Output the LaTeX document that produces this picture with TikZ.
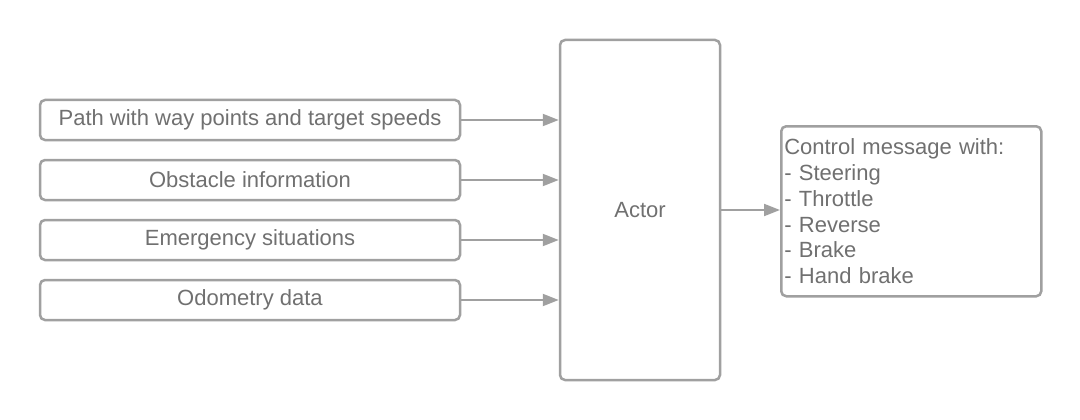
\documentclass[tikz,border=0pt]{standalone}
\usepackage{fontspec}
\setmainfont{Liberation Sans}
\usetikzlibrary{arrows.meta}
\definecolor{ln}{HTML}{A0A0A0}
\definecolor{tx}{HTML}{707070}
\begin{document}
\begin{tikzpicture}[x=1pt,y=-1pt,
  box/.style={draw=ln,line width=2.5pt,rounded corners=5pt,text=tx,font=\fontsize{22}{25.8}\selectfont},
  conn/.style={draw=ln,line width=2pt,-{Triangle[length=16pt,width=12pt]}}]
\useasboundingbox[fill=white] (0,0) rectangle (1080,420);
\node[box,minimum width=420pt,minimum height=40pt] (a) at (250,120) {Path with way points and target speeds};
\node[box,minimum width=420pt,minimum height=40pt] (b) at (250,180) {Obstacle information};
\node[box,minimum width=420pt,minimum height=40pt] (c) at (250,240) {Emergency situations};
\node[box,minimum width=420pt,minimum height=40pt] (d) at (250,300) {Odometry data};
\node[box,minimum width=160pt,minimum height=340pt] (act) at (640,210) {Actor};
\node[box,minimum width=260pt,minimum height=170pt,align=left,text width=254pt,inner sep=3pt,anchor=north west] (out) at (780,125) {Control message with:\\- Steering\\- Throttle\\- Reverse\\- Brake\\- Hand brake};
\coordinate (ta) at (act.west |- a);
\coordinate (tb) at (act.west |- b);
\coordinate (tc) at (act.west |- c);
\coordinate (td) at (act.west |- d);
\draw[conn] (a.east) -- (ta);
\draw[conn] (b.east) -- (tb);
\draw[conn] (c.east) -- (tc);
\draw[conn] (d.east) -- (td);
\draw[conn] (act.east) -- (out.west |- act.east);
\end{tikzpicture}
\end{document}
